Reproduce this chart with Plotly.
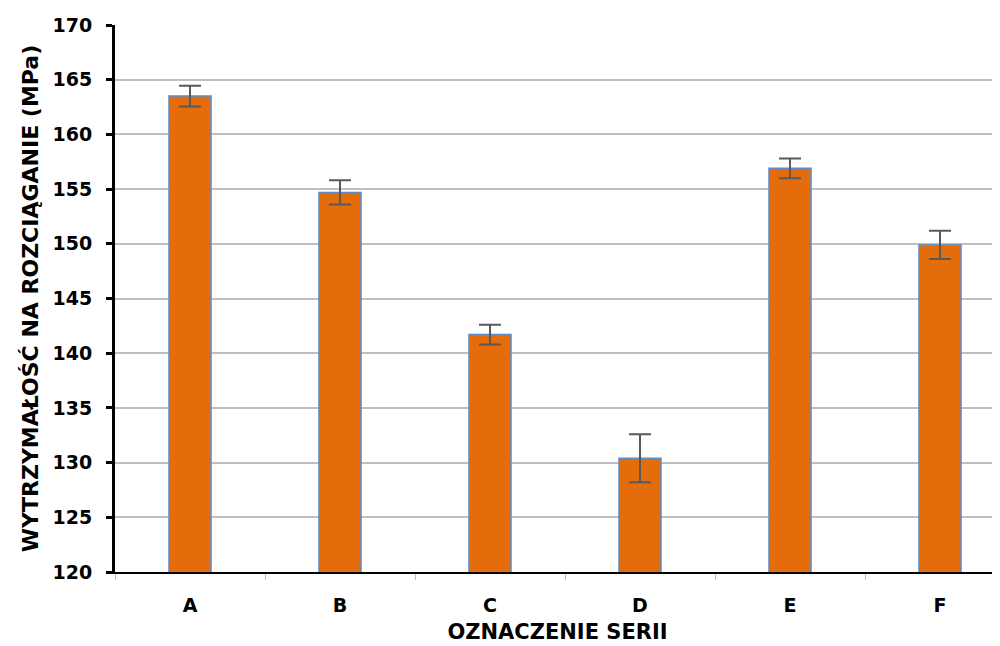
import plotly.graph_objects as go

categories = ["A", "B", "C", "D", "E", "F"]
values = [163.5, 154.7, 141.7, 130.4, 156.9, 149.9]
errors = [0.95, 1.1, 0.9, 2.2, 0.9, 1.3]
y_ticks = [120, 125, 130, 135, 140, 145, 150, 155, 160, 165, 170]

font_family = "'DejaVu Sans', sans-serif"

fig = go.Figure()
fig.add_trace(go.Bar(
    x=categories, y=values, width=0.28,
    marker=dict(color="#E46C0A", line=dict(color="#5B8BC8", width=1.5)),
    error_y=dict(type="data", array=errors, visible=True, color="#595959", thickness=2, width=11),
))

fig.update_layout(
    width=992, height=638,
    margin=dict(l=107, r=0, t=17, b=74),
    paper_bgcolor="white", plot_bgcolor="white",
    showlegend=False,
    font=dict(family=font_family, color="black"),
    xaxis=dict(
        range=[-0.5, 5.4], automargin=False,
        showline=True, linecolor="black", linewidth=1.5,
        ticks="outside", tickson="boundaries", tickcolor="#BFBFBF", ticklen=6, tickwidth=1,
        tickfont=dict(size=19, family=font_family, weight="bold"),
        ticklabelstandoff=15,
        title=dict(text="<b>OZNACZENIE SERII</b>", font=dict(size=21), standoff=10),
        showgrid=False,
    ),
    yaxis=dict(
        range=[120, 170], tickvals=y_ticks, automargin=False,
        showline=True, linecolor="black", linewidth=3,
        ticks="outside", tickcolor="black", ticklen=6, tickwidth=3,
        tickfont=dict(size=19, family=font_family, weight="bold"),
        ticklabelstandoff=10,
        showgrid=True, gridcolor="#BFBFBF", gridwidth=1.5,
        zeroline=False,
        title=dict(text="<b>WYTRZYMAŁOŚĆ NA ROZCIĄGANIE (MPa)</b>", font=dict(size=22), standoff=8),
    ),
)

fig.write_html("out.html")
